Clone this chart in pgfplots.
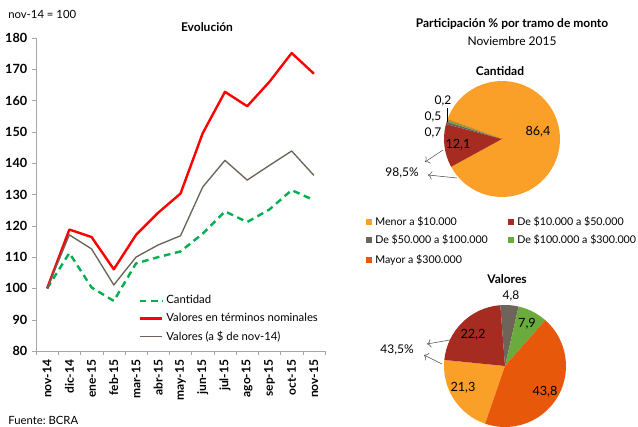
\documentclass[border=0pt]{standalone}
\usepackage{pgfplots}
\pgfplotsset{compat=1.18}
\usepackage{fontspec}
\setmainfont{Lato}
\usetikzlibrary{arrows.meta}
\frenchspacing

\definecolor{cMenor}{RGB}{250,160,40}
\definecolor{cDiez}{RGB}{166,43,33}
\definecolor{cCincuenta}{RGB}{110,100,89}
\definecolor{cCien}{RGB}{107,170,60}
\definecolor{cMayor}{RGB}{232,88,11}
\definecolor{lnRed}{RGB}{255,0,0}
\definecolor{lnBrown}{RGB}{107,99,88}
\definecolor{lnGreen}{RGB}{0,176,80}

% Cantidad: 86,4 / 12,1 / 0,7 / 0,5 / 0,2  (start 160 deg, clockwise)
\pgfmathsetmacro\cA{160}
\pgfmathsetmacro\cB{\cA-86.4*(360/99.9)}
\pgfmathsetmacro\cC{\cB-12.1*(360/99.9)}
\pgfmathsetmacro\cD{\cC-0.7*(360/99.9)}
\pgfmathsetmacro\cE{\cD-0.5*(360/99.9)}
\pgfmathsetmacro\cF{\cE-0.2*(360/99.9)}
% Valores: 21,3 / 22,2 / 4,8 / 7,9 / 43,8  (start 251 deg, clockwise)
\pgfmathsetmacro\vA{251}
\pgfmathsetmacro\vB{\vA-21.3*3.6}
\pgfmathsetmacro\vC{\vB-22.2*3.6}
\pgfmathsetmacro\vD{\vC-4.8*3.6}
\pgfmathsetmacro\vE{\vD-7.9*3.6}
\pgfmathsetmacro\vF{\vE-43.8*3.6}

\newcommand{\slice}[4]{\fill[#1] (axis cs:0,0) -- ++(#2:#4) arc[start angle=#2, end angle=#3, radius=#4] -- cycle;}

\begin{document}
\begin{tikzpicture}
\path[use as bounding box] (0,0) rectangle (478.5pt,320.25pt);

% ---- line chart
\begin{axis}[at={(27pt,57pt)}, anchor=south west, scale only axis,
  width=216.75pt, height=234.75pt,
  xmin=-0.5, xmax=12.5, ymin=80, ymax=180, ytick={80,90,...,180},
  xtick={0,...,12},
  xticklabels={nov-14,dic-14,ene-15,feb-15,mar-15,abr-15,may-15,jun-15,jul-15,ago-15,sep-15,oct-15,nov-15},
  minor xtick={-0.5,0.5,...,12.5},
  axis x line*=bottom, axis y line*=left,
  axis line style={gray!70, -},
  tick align=outside, major tick length=3pt, minor tick length=3pt,
  tick style={gray!70}, major x tick style={draw=none},
  xticklabel style={rotate=90, anchor=east, font=\bfseries\fontsize{9}{10}\selectfont},
  yticklabel style={font=\bfseries\fontsize{9.5}{10}\selectfont},
  /pgf/number format/assume math mode=true,
  legend style={at={(0.34,0.195)}, anchor=north west, draw=none, fill=none,
    font=\fontsize{8.5}{10}\selectfont, row sep=1.5pt, cells={anchor=west}},
  line join=round, clip=false]
\addplot[lnGreen, line width=1.8pt, dash pattern=on 5pt off 3.5pt] coordinates
  {(0,100) (1,111.3) (2,100.3) (3,96) (4,108) (5,110) (6,111.8) (7,117.5) (8,124.6) (9,121.2) (10,125.2) (11,131.4) (12,128.2)};
\addlegendentry{Cantidad}
\addplot[lnRed, line width=1.8pt] coordinates
  {(0,100) (1,118.8) (2,116.4) (3,106.1) (4,117.1) (5,124.2) (6,130.3) (7,149.6) (8,162.8) (9,158.2) (10,166) (11,175.2) (12,168.6)};
\addlegendentry{Valores en términos nominales}
\addplot[lnBrown, line width=1pt] coordinates
  {(0,100) (1,117.1) (2,112.6) (3,101.1) (4,110) (5,113.9) (6,116.8) (7,132.4) (8,140.9) (9,134.6) (10,139.3) (11,143.9) (12,136.1)};
\addlegendentry{Valores (a \$ de nov-14)}
\end{axis}

% ---- pie Cantidad
\begin{axis}[at={(376.5pt,216pt)}, anchor=center, scale only axis,
  width=87pt, height=87pt, xmin=-1, xmax=1, ymin=-1, ymax=1, hide axis, clip=false]
\slice{cMenor}{\cA}{\cB}{43.5pt}
\slice{cDiez}{\cB}{\cC}{43.5pt}
\slice{cCincuenta}{\cC}{\cD}{43.5pt}
\slice{cCien}{\cD}{\cE}{43.5pt}
\slice{cMayor}{\cE}{\cF}{43.5pt}
\end{axis}

% ---- pie Valores
\begin{axis}[at={(378.75pt,45.75pt)}, anchor=center, scale only axis,
  width=91.5pt, height=91.5pt, xmin=-1, xmax=1, ymin=-1, ymax=1, hide axis, clip=false]
\slice{cMenor}{\vA}{\vB}{45.75pt}
\slice{cDiez}{\vB}{\vC}{45.75pt}
\slice{cCincuenta}{\vC}{\vD}{45.75pt}
\slice{cCien}{\vD}{\vE}{45.75pt}
\slice{cMayor}{\vE}{\vF}{45.75pt}
\end{axis}

% ---- texts, in pixel coordinates of the reference
\begin{scope}[x=0.75pt, y=-0.75pt, yshift=320.25pt,
  every node/.style={inner sep=0pt, font=\fontsize{8.5}{10}\selectfont}]
\node[anchor=west] at (8,14) {nov-14 = 100};
\node[font=\bfseries\fontsize{9}{10}\selectfont] at (207,27) {Evolución};
\node[anchor=west] at (8,420) {Fuente: BCRA};
\node[font=\bfseries\fontsize{9}{10}\selectfont] at (512,24) {Participación \% por tramo de monto};
\node[font=\fontsize{9}{10}\selectfont] at (512,41) {Noviembre 2015};
\node[font=\bfseries\fontsize{9}{10}\selectfont] at (500,71) {Cantidad};
\node[font=\bfseries\fontsize{9}{10}\selectfont] at (507,279) {Valores};

\node[font=\fontsize{9.5}{10}\selectfont] at (538,132) {86,4};
\node[font=\fontsize{9.5}{10}\selectfont] at (458,145) {12,1};
\node[font=\fontsize{9}{10}\selectfont] at (443,101) {0,2};
\node[font=\fontsize{9}{10}\selectfont] at (433,117) {0,5};
\node[font=\fontsize{9}{10}\selectfont] at (433,133) {0,7};
\node[font=\fontsize{9}{10}\selectfont] at (402,173) {98,5\%};
\draw[black, line width=0.6pt] (447,108) -- (447,122);
\draw[-{To[length=3pt]}, line width=0.4pt, black!70] (443,150) -- (425,162);
\draw[-{To[length=3pt]}, line width=0.4pt, black!70] (457,178) -- (428,175);

\node[font=\fontsize{9}{10}\selectfont] at (511,296) {4,8};
\node[font=\fontsize{9.5}{10}\selectfont] at (527,324) {7,9};
\node[font=\fontsize{9.5}{10}\selectfont] at (473,335) {22,2};
\node[font=\fontsize{9.5}{10}\selectfont] at (463,388) {21,3};
\node[font=\fontsize{9.5}{10}\selectfont] at (545,392) {43,8};
\node[font=\fontsize{9}{10}\selectfont] at (397,350) {43,5\%};
\draw[-{To[length=3pt]}, line width=0.4pt, black!70] (450,340) -- (427,344);
\draw[-{To[length=3pt]}, line width=0.4pt, black!70] (442,364) -- (424,355);

% pie legend
\begin{scope}[every node/.style={inner sep=0pt, anchor=west, font=\fontsize{8}{10}\selectfont}]
\fill[cMenor] (366,219) rectangle (372,225);
\node at (375,222) {Menor a \$10.000};
\fill[cDiez] (508,219) rectangle (514,225);
\node at (517,222) {De \$10.000 a \$50.000};
\fill[cCincuenta] (366,237) rectangle (372,243);
\node at (375,240) {De \$50.000 a \$100.000};
\fill[cCien] (508,237) rectangle (514,243);
\node at (517,240) {De \$100.000 a \$300.000};
\fill[cMayor] (366,257) rectangle (372,263);
\node at (375,260) {Mayor a \$300.000};
\end{scope}
\end{scope}
\end{tikzpicture}
\end{document}
